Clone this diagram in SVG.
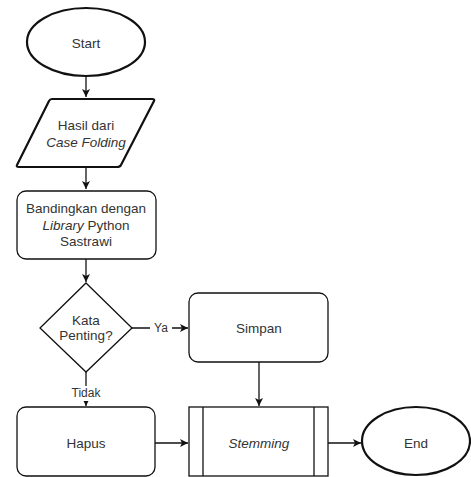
<svg xmlns="http://www.w3.org/2000/svg" width="471" height="477" viewBox="0 0 471 477">
<defs>
<marker id="ah" markerWidth="10" markerHeight="10" refX="8" refY="4" orient="auto" markerUnits="userSpaceOnUse">
<path d="M0,0 L8,4 L0,8 L2,4 Z" fill="#111"/>
</marker>
</defs>
<style>
.t{font-family:"Liberation Sans",Arial,sans-serif;font-size:13.5px;fill:#333;text-anchor:middle;dominant-baseline:central}
.i{font-style:italic}
.thin{fill:#fff;stroke:#111;stroke-width:1.3}
.thick{fill:#fff;stroke:#111;stroke-width:2.2}
.c{fill:none;stroke:#111;stroke-width:1.3}
.lbl{font-family:"Liberation Sans",Arial,sans-serif;font-size:12px;fill:#333;text-anchor:middle;dominant-baseline:central}
</style>
<rect width="471" height="477" fill="#fff"/>
<g id="connectors">
<line class="c" x1="86" y1="76" x2="86" y2="97" marker-end="url(#ah)"/>
<line class="c" x1="86" y1="167" x2="86" y2="189" marker-end="url(#ah)"/>
<line class="c" x1="86" y1="259" x2="86" y2="282" marker-end="url(#ah)"/>
<line class="c" x1="132" y1="328" x2="188" y2="328" marker-end="url(#ah)"/>
<line class="c" x1="86" y1="372" x2="86" y2="406" marker-end="url(#ah)"/>
<line class="c" x1="259" y1="362" x2="259" y2="406" marker-end="url(#ah)"/>
<line class="c" x1="155" y1="443" x2="188" y2="443" marker-end="url(#ah)"/>
<line class="c" x1="328" y1="443" x2="361" y2="443" marker-end="url(#ah)"/>
<rect x="150" y="320" width="22" height="16" fill="#fff"/>
<text class="lbl" x="161" y="328">Ya</text>
<rect x="68" y="386" width="36" height="15" fill="#fff"/>
<text class="lbl" x="86" y="393">Tidak</text>
</g>
<g id="start">
<ellipse class="thick" cx="86" cy="42" rx="59" ry="34"/>
<text class="t" x="86" y="43">Start</text>
</g>
<g id="input">
<path class="thick" d="M52,99 L152,99 Q155,99 154,101 L121,165 Q120,167 117,167 L19,167 Q16,167 17,165 L49,101 Q50,99 52,99 Z" stroke-linejoin="round"/>
<text class="t" x="86" y="125">Hasil dari</text>
<text class="t i" x="86" y="142">Case Folding</text>
</g>
<g id="compare">
<rect class="thin" x="17" y="191" width="139" height="68" rx="9"/>
<text class="t" x="86" y="208">Bandingkan dengan</text>
<text class="t" x="86" y="225"><tspan class="i">Library</tspan> Python</text>
<text class="t" x="86" y="241">Sastrawi</text>
</g>
<g id="decision">
<path class="thin" d="M86,283 L132,328 L86,372 L40,328 Z"/>
<text class="t" x="86" y="320">Kata</text>
<text class="t" x="86" y="335">Penting?</text>
</g>
<g id="simpan">
<rect class="thin" x="189" y="293" width="139" height="69" rx="9"/>
<text class="t" x="259" y="328">Simpan</text>
</g>
<g id="hapus">
<rect class="thin" x="17" y="407" width="138" height="69" rx="9"/>
<text class="t" x="86" y="443">Hapus</text>
</g>
<g id="stemming">
<rect class="thin" x="189" y="407" width="139" height="69"/>
<line class="c" x1="203" y1="407" x2="203" y2="476"/>
<line class="c" x1="314" y1="407" x2="314" y2="476"/>
<text class="t i" x="259" y="443">Stemming</text>
</g>
<g id="end">
<ellipse class="thick" cx="416" cy="441" rx="54" ry="34"/>
<text class="t" x="416" y="443">End</text>
</g>
</svg>
